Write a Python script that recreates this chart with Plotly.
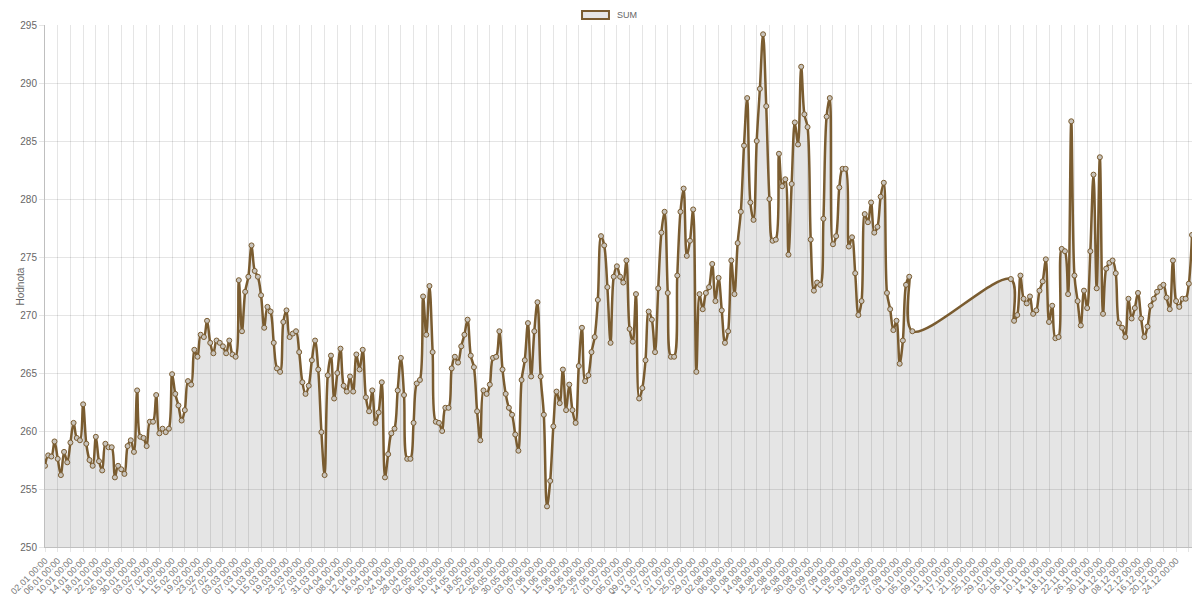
import pandas as pd
import plotly.graph_objects as go

# daily SUM values, 2019-01-02 .. 2019-12-29 (None = no data)
jan = [257.0, 257.9, 257.8, 259.1, 257.6, 256.2, 258.2, 257.3, 259.0, 260.7,
       259.4, 259.2, 262.3, 258.9, 257.5, 257.0, 259.5, 257.4, 256.6, 258.9,
       258.6, 258.6, 256.0, 257.0, 256.7, 256.3, 258.7, 259.2, 258.2, 263.5]
feb = [259.5, 259.4, 258.7, 260.8, 260.8, 263.1, 259.8, 260.2, 259.9, 260.2,
       264.9, 263.2, 262.2, 260.9, 261.8, 264.3, 264.0, 267.0, 266.4, 268.3,
       268.1, 269.5, 267.6, 266.7, 267.8, 267.6, 267.3, 266.7]
mar = [267.8, 266.6, 266.4, 273.0, 268.6, 272.0, 273.3, 276.0, 273.8, 273.3,
       271.7, 268.9, 270.7, 270.3, 267.6, 265.4, 265.1, 269.4, 270.4, 268.1,
       268.4, 268.6, 266.8, 264.2, 263.2, 263.9, 266.1, 267.8, 265.3, 259.9,
       256.2]
apr = [264.8, 266.5, 262.8, 265.0, 267.1, 263.9, 263.4, 264.7, 263.4, 266.6,
       265.3, 267.0, 262.9, 261.7, 263.5, 260.7, 261.6, 264.2, 256.0, 258.0,
       259.8, 260.2, 263.5, 266.3, 263.1, 257.6, 257.6, 260.7, 264.1, 264.4]
may = [271.6, 268.3, 272.5, 266.8, 260.8, 260.7, 260.0, 262.0, 262.0, 265.4,
       266.4, 265.9, 267.3, 268.3, 269.6, 266.5, 265.5, 261.7, 259.2, 263.5,
       263.2, 264.0, 266.3, 266.4, 268.6, 265.3, 263.2, 262.0, 261.4, 259.7,
       258.3]
jun = [264.4, 266.1, 269.3, 264.7, 268.6, 271.1, 264.7, 261.4, 253.5, 255.7,
       260.4, 263.4, 262.4, 265.3, 261.8, 264.0, 261.8, 260.7, 265.6, 268.9,
       264.3, 264.8, 266.8, 268.1, 271.3, 276.8, 276.0, 272.4, 267.6, 273.3]
jul = [274.2, 273.3, 272.8, 274.7, 268.8, 267.7, 271.8, 262.8, 263.7, 266.1,
       270.3, 269.6, 266.8, 272.3, 277.1, 278.9, 271.9, 266.4, 266.4, 273.4,
       278.9, 280.9, 275.1, 276.4, 279.1, 265.1, 271.8, 270.5, 271.9, 272.4,
       274.4]
aug = [271.2, 273.2, 270.4, 267.6, 268.6, 274.7, 271.8, 276.2, 278.9, 284.6,
       288.7, 279.7, 278.2, 285.0, 289.5, 294.2, 288.0, 280.0, 276.4, 276.5,
       283.9, 281.1, 281.7, 275.2, 281.3, 286.6, 284.7, 291.4, 287.3, 286.2,
       276.5]
sep = [272.1, 272.8, 272.6, 278.3, 287.1, 288.7, 276.1, 276.8, 281.0, 282.6,
       282.6, 275.9, 276.7, 273.6, 270.0, 271.2, 278.7, 278.0, 279.7, 277.1,
       277.6, 280.2, 281.4, 271.9, 270.5, 268.7, 269.5, 265.8, 267.8, 272.6]
oct_ = [273.3, 268.6] + [None] * 29
nov = [None, 273.1, 269.5, 270.0, 273.4, 271.4, 271.0, 271.6, 270.1, 270.4,
       272.1, 272.9, 274.8, 269.4, 270.8, 268.0, 268.1, 275.7, 275.5, 271.8,
       286.7, 273.4, 271.2, 269.1, 272.1, 270.6, 275.5, 282.1, 272.3, 283.6]
dec = [270.1, 274.0, 274.5, 274.7, 273.6, 269.3, 268.9, 268.1, 271.4, 269.7,
       270.6, 271.9, 269.7, 268.1, 269.0, 270.8, 271.4, 272.0, 272.4, 272.6,
       271.5, 270.5, 274.7, 271.2, 270.7, 271.4, 271.4, 272.7, 276.9]

values = jan + feb + mar + apr + may + jun + jul + aug + sep + oct_ + nov + dec
dates = pd.date_range("2019-01-02", "2019-12-29", freq="D")

BROWN = "#7a5c30"
GRID = "rgba(0,0,0,0.1)"
FONT = "Liberation Sans, Arial, sans-serif"

fig = go.Figure(
    go.Scatter(
        x=dates,
        y=values,
        mode="lines+markers",
        name="SUM",
        connectgaps=True,
        fill="tozeroy",
        fillcolor="rgba(0,0,0,0.1)",
        line=dict(color=BROWN, width=2.5, shape="spline", smoothing=1.0),
        marker=dict(size=5, color="#c8c3bb", line=dict(color=BROWN, width=1)),
        showlegend=False,
    )
)

fig.update_layout(
    width=1192,
    height=594,
    margin=dict(l=45, r=0, t=25, b=47, autoexpand=False),
    paper_bgcolor="white",
    plot_bgcolor="white",
    font=dict(family=FONT, size=10, color="#666"),
    xaxis=dict(
        type="date",
        range=["2019-01-02", "2019-12-29"],
        tick0="2019-01-02",
        dtick=4 * 86400000,
        tickformat="%d.%m %H:%M",
        tickangle=-45,
        tickfont=dict(size=9, color="#777"),
        automargin=False,
        showgrid=True,
        gridcolor=GRID,
        showline=True,
        linecolor="rgba(0,0,0,0.25)",
        ticks="outside",
        ticklen=4,
        tickcolor=GRID,
    ),
    yaxis=dict(
        range=[250, 295],
        dtick=5,
        tickfont=dict(size=10, color="#666"),
        automargin=False,
        showgrid=True,
        gridcolor=GRID,
        zeroline=False,
        showline=True,
        linecolor="rgba(0,0,0,0.25)",
        ticks="outside",
        ticklen=5,
        tickcolor=GRID,
    ),
    shapes=[
        dict(type="rect", xref="paper", yref="paper",
             x0=0.4682, x1=0.4917, y0=1.0115, y1=1.0268,
             fillcolor="#e6e6e6", line=dict(color=BROWN, width=2)),
    ],
    annotations=[
        dict(text="SUM", xref="paper", yref="paper", x=0.497, y=1.019,
             xanchor="left", yanchor="middle", showarrow=False,
             font=dict(size=9, color="#666")),
        dict(text="Hodnota", xref="paper", yref="paper", x=-0.0279, y=0.5,
             textangle=-90, showarrow=False, font=dict(size=10, color="#666")),
        dict(text="Čas", xref="paper", yref="paper", x=0.5, y=-0.0824,
             xanchor="center", yanchor="top", showarrow=False,
             font=dict(size=10, color="#666")),
    ],
)

# the page has an 8px default body margin; drop it so the chart sits at 0,0
fig.write_html(
    "out.html",
    config={"displayModeBar": False},
    post_script="document.body.style.margin='0';document.body.style.overflow='hidden';",
)
